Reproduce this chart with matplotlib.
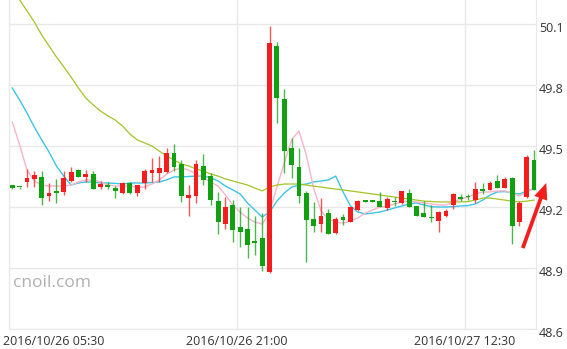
import numpy as np
import matplotlib.pyplot as plt
from matplotlib.transforms import ScaledTranslation

# 30 min candles, 2016/10/26 05:30 -> 2016/10/27 ~17:00
opens = [49.308, 49.298, 49.324, 49.336, 49.349, 49.256, 49.279, 49.275, 49.328, 49.382,
         49.349, 49.362, 49.297, 49.308, 49.292, 49.267, 49.320, 49.267, 49.317, 49.366,
         49.369, 49.374, 49.464, 49.410, 49.246, 49.254, 49.402, 49.352, 49.231, 49.116,
         49.210, 49.100, 49.090, 49.028, 49.049, 48.880, 49.992, 49.730, 49.492, 49.398,
         49.270, 49.140, 49.116, 49.169, 49.074, 49.150, 49.128, 49.185, 49.228, 49.228,
         49.231, 49.194, 49.231, 49.218, 49.270, 49.206, 49.172, 49.148, 49.133, 49.156,
         49.210, 49.251, 49.251, 49.234, 49.287, 49.284, 49.329, 49.292, 49.341, 49.125,
         49.251, 49.431]
closes = [49.293, 49.296, 49.343, 49.357, 49.246, 49.269, 49.267, 49.341, 49.371, 49.349,
          49.362, 49.287, 49.312, 49.297, 49.279, 49.320, 49.267, 49.308, 49.379, 49.382,
          49.390, 49.464, 49.398, 49.254, 49.259, 49.410, 49.333, 49.234, 49.128, 49.199,
          49.087, 49.076, 49.013, 49.025, 48.910, 50.005, 49.738, 49.477, 49.407, 49.256,
          49.136, 49.107, 49.157, 49.067, 49.140, 49.136, 49.199, 49.230, 49.226, 49.226,
          49.199, 49.238, 49.223, 49.279, 49.199, 49.156, 49.152, 49.146, 49.174, 49.182,
          49.262, 49.239, 49.249, 49.287, 49.279, 49.320, 49.292, 49.338, 49.108, 49.218,
          49.444, 49.284]
highs = [49.310, 49.300, 49.387, 49.377, 49.377, 49.318, 49.338, 49.377, 49.398, 49.387,
         49.382, 49.377, 49.328, 49.324, 49.303, 49.322, 49.325, 49.310, 49.387, 49.442,
         49.452, 49.489, 49.510, 49.431, 49.308, 49.431, 49.461, 49.369, 49.275, 49.248,
         49.234, 49.199, 49.199, 49.156, 49.172, 50.090, 50.010, 49.779, 49.538, 49.489,
         49.279, 49.226, 49.243, 49.189, 49.150, 49.166, 49.200, 49.235, 49.229, 49.229,
         49.275, 49.251, 49.248, 49.281, 49.289, 49.206, 49.229, 49.210, 49.178, 49.189,
         49.270, 49.262, 49.264, 49.324, 49.320, 49.329, 49.357, 49.346, 49.349, 49.229,
         49.456, 49.480]
lows = [49.290, 49.290, 49.298, 49.298, 49.210, 49.229, 49.220, 49.259, 49.325, 49.349,
        49.324, 49.287, 49.287, 49.287, 49.246, 49.264, 49.264, 49.254, 49.287, 49.324,
        49.324, 49.366, 49.379, 49.226, 49.157, 49.218, 49.308, 49.210, 49.067, 49.090,
        49.029, 49.005, 48.948, 48.964, 48.885, 48.875, 49.612, 49.369, 49.341, 49.218,
        48.928, 49.078, 49.078, 49.067, 49.067, 49.112, 49.125, 49.180, 49.225, 49.225,
        49.199, 49.185, 49.206, 49.215, 49.199, 49.155, 49.149, 49.128, 49.076, 49.149,
        49.189, 49.229, 49.234, 49.218, 49.262, 49.284, 49.292, 49.292, 49.018, 49.107,
        49.244, 49.284]

ma_pink = [49.618, 49.505, 49.382, 49.328, 49.308, 49.303, 49.303, 49.303, 49.308, 49.323,
           49.333, 49.333, 49.323, 49.308, 49.303, 49.303, 49.303, 49.298, 49.298, 49.313,
           49.333, 49.362, 49.382, 49.392, 49.382, 49.362, 49.343, 49.323, 49.303, 49.259,
           49.210, 49.175, 49.146, 49.126, 49.116, 49.175, 49.298, 49.416, 49.530, 49.574,
           49.456, 49.293, 49.180, 49.141, 49.126, 49.121, 49.131, 49.146, 49.170, 49.185,
           49.200, 49.205, 49.215, 49.225, 49.229, 49.225, 49.220, 49.215, 49.210, 49.210,
           49.225, 49.239, 49.249, 49.264, 49.274, 49.274, 49.279, 49.279, 49.269, 49.254,
           49.274, 49.293]
ma_cyan = [49.785, 49.726, 49.662, 49.593, 49.530, 49.470, 49.402, 49.352, 49.308, 49.318,
           49.323, 49.323, 49.318, 49.318, 49.316, 49.313, 49.318, 49.318, 49.318, 49.320,
           49.323, 49.333, 49.348, 49.348, 49.350, 49.352, 49.352, 49.343, 49.328, 49.303,
           49.284, 49.264, 49.220, 49.185, 49.151, 49.175, 49.229, 49.269, 49.298, 49.308,
           49.313, 49.323, 49.328, 49.333, 49.352, 49.274, 49.205, 49.175, 49.166, 49.170,
           49.175, 49.185, 49.195, 49.205, 49.215, 49.220, 49.210, 49.202, 49.200, 49.200,
           49.202, 49.205, 49.207, 49.215, 49.234, 49.259, 49.274, 49.276, 49.269, 49.264,
           49.279, 49.289]
ma_green = [50.272, 50.218, 50.164, 50.110, 50.046, 49.992, 49.938, 49.889, 49.839, 49.785,
            49.736, 49.702, 49.672, 49.648, 49.628, 49.598, 49.559, 49.530, 49.515, 49.500,
            49.475, 49.451, 49.431, 49.411, 49.402, 49.387, 49.377, 49.362, 49.352, 49.338,
            49.328, 49.318, 49.308, 49.293, 49.279, 49.298, 49.308, 49.313, 49.313, 49.313,
            49.308, 49.303, 49.298, 49.293, 49.288, 49.284, 49.279, 49.274, 49.269, 49.264,
            49.259, 49.254, 49.249, 49.244, 49.239, 49.234, 49.229, 49.227, 49.225, 49.225,
            49.225, 49.225, 49.227, 49.234, 49.244, 49.244, 49.239, 49.234, 49.229, 49.225,
            49.229, 49.234]

yticks = [48.6, 48.9, 49.2, 49.5, 49.8, 50.1]
xticks = [0, 31, 62]   # in half hours from 05:30
xlabels = ['2016/10/26 05:30', '2016/10/26 21:00', '2016/10/27 12:30']

RED = '#f41c1c'
GREEN = '#10a010'
GRID = '#e8e8e8'

fig = plt.figure(figsize=(5.67, 3.49), dpi=100)
ax = fig.add_axes([9/567, 20/349, 527/567, 329/349])

x = np.arange(len(opens)) + 0.45
o = np.array(opens)
c = np.array(closes)
up = c >= o
colors = np.where(up, RED, GREEN)

ax.vlines(x, lows, highs, colors=colors, lw=1, alpha=0.75, zorder=3)
body_lo = np.minimum(o, c)
body_h = np.maximum(np.abs(c - o), 0.006)
ax.bar(x, body_h, bottom=body_lo, width=0.66, color=colors, lw=0, zorder=4)

ax.plot(x, ma_cyan, color='#3ec4e6', lw=1, zorder=2)
ax.plot(x, ma_pink, color='#f8b4c8', lw=1, zorder=2)
ax.plot(x, ma_green, color='#a2c428', lw=0.9, zorder=2)

ax.set_xlim(0, 71.7)
ax.set_ylim(48.6, 50.218)

ax.set_yticks(yticks)
ax.set_yticklabels(['%.1f' % v for v in yticks])
ax.yaxis.tick_right()
ax.set_xticks(xticks)
ax.set_xticklabels(xlabels)
ax.tick_params(length=0, labelsize=9, colors='#333333', labelfontfamily='Open Sans')
ax.tick_params(axis='y', pad=2)
ax.tick_params(axis='x', pad=4)
for lab in ax.get_yticklabels():
    lab.set_transform(lab.get_transform() + ScaledTranslation(0, -0.03, fig.dpi_scale_trans))
xl = ax.get_xticklabels()
xl[0].set_ha('left')
xl[0].set_transform(xl[0].get_transform() + ScaledTranslation(-0.06, 0, fig.dpi_scale_trans))

ax.grid(True, color=GRID, lw=1, zorder=0)
for s in ['top']:
    ax.spines[s].set_visible(False)
for s in ['left', 'right', 'bottom']:
    ax.spines[s].set_color(GRID)

ax.text(0.008, 0.14, 'cnoil.com', transform=ax.transAxes, fontsize=12.5,
        color='#b0b0b0', family='Open Sans', va='center', ha='left')

# red arrow pointing at the last candles
arrow_tail = (69.9, 48.998)
arrow_head = (73.1, 49.318)
ax.annotate('', xy=arrow_head, xytext=arrow_tail, annotation_clip=False,
            arrowprops=dict(arrowstyle='simple,head_length=1.3,head_width=1.1,tail_width=0.3',
                            color='#f41c1c', lw=0, shrinkA=0, shrinkB=0, mutation_scale=9))

plt.savefig('out.png', dpi=100)
